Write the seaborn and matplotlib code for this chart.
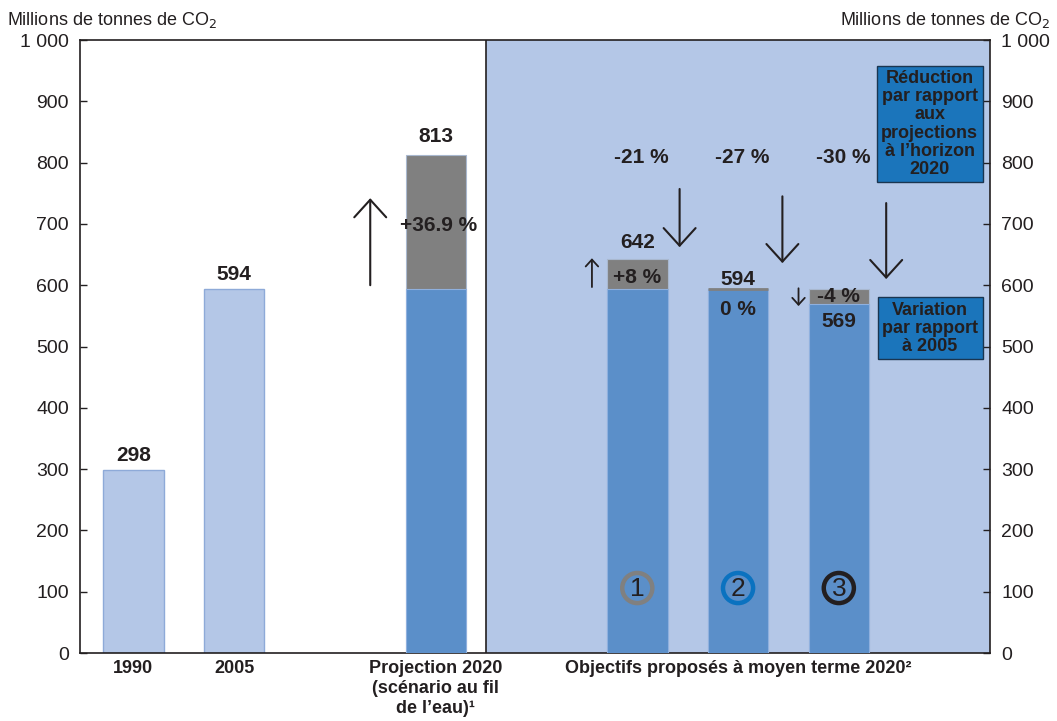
import numpy as np
import pandas as pd
import matplotlib
matplotlib.use("Agg")
import matplotlib.pyplot as plt
import seaborn as sns

# --- data -----------------------------------------------------------------
hist_labels = ["1990", "2005"]
hist_values = [298, 594]
ref_2005 = 594

proj_value = 813
proj_change = "+36.9 %"

target_values = [642, 594, 569]
target_vs_2005 = ["+8 %", "0 %", "-4 %"]
target_vs_proj = ["-21 %", "-27 %", "-30 %"]
circle_labels = ["1", "2", "3"]

group_labels = ["1990", "2005", "Projection 2020\n(scénario au fil\nde l’eau)¹",
                "Objectifs proposés à moyen terme 2020²"]

# slot positions along the x axis
hist_pos = [0, 1]
proj_pos = 3
target_pos = [5, 6, 7]
group_pos = [0, 1, 3, 6]

LIGHT = "#b4c7e7"
MID = "#5b8fc9"
GREY = "#808080"
BOX = "#1b75bb"
INK = "#231f20"

sns.set_theme(style="white")
plt.rcParams["font.family"] = ["Liberation Sans", "DejaVu Sans"]

fig = plt.figure(figsize=(10.57, 7.21), dpi=100)
ax = fig.add_axes([0.0757, 0.0943, 0.8609, 0.8502])

# shaded panel for the proposed targets
ax.axvspan(3.5, 8.6, color=LIGHT, zorder=0, lw=0)
ax.axvline(3.5, color=INK, lw=1.2, zorder=1)

# historical bars
hist_df = pd.DataFrame({"pos": hist_pos, "val": hist_values})
sns.barplot(data=hist_df, x="pos", y="val", native_scale=True, width=0.6,
            color=LIGHT, edgecolor="#8eaad8", linewidth=1, saturation=1,
            ax=ax, zorder=2)

# projection + targets: grey upper part, blue lower part
all_pos = [proj_pos] + target_pos
all_vals = [proj_value] + target_values
upper = [max(v, ref_2005) for v in all_vals]
lower = [min(v, ref_2005) for v in all_vals]
up_df = pd.DataFrame({"pos": all_pos, "val": upper})
lo_df = pd.DataFrame({"pos": all_pos, "val": lower})
sns.barplot(data=up_df, x="pos", y="val", native_scale=True, width=0.6,
            color=GREY, edgecolor="#a9b8cf", linewidth=0.8, saturation=1,
            ax=ax, zorder=2)
sns.barplot(data=lo_df, x="pos", y="val", native_scale=True, width=0.6,
            color=MID, edgecolor="#8fb0de", linewidth=0.8, saturation=1,
            ax=ax, zorder=3)
# thin grey cap where the target equals the 2005 level
for p, v in zip(target_pos, target_values):
    if v == ref_2005:
        ax.hlines(v, p - 0.3, p + 0.3, color=GREY, lw=2, zorder=4)

ax.set_xlim(-0.53, 8.5)
ax.set_ylim(0, 1000)

# axes styling
for s in ["left", "right", "top", "bottom"]:
    ax.spines[s].set_visible(True)
    ax.spines[s].set_color(INK)
    ax.spines[s].set_linewidth(1.2)
yt = np.arange(0, 1001, 100)
ylabels = ["1 000" if t == 1000 else str(t) for t in yt]
ax.set_yticks(yt)
ax.set_yticklabels(ylabels)
ax.tick_params(axis="y", direction="in", length=5, width=1, color=INK,
               labelsize=14, labelcolor=INK, left=True, right=True,
               labelleft=True, labelright=True, pad=8)
ax.set_xticks(group_pos)
ax.set_xticklabels(group_labels, fontweight="bold", fontsize=13,
                   color=INK, linespacing=1.25)
ax.tick_params(axis="x", length=0, pad=5)
ax.set_xlabel("")
ax.set_ylabel("")

fig.text(0.007, 0.972, "Millions de tonnes de CO$_2$", fontsize=13,
         color=INK, ha="left", va="center")
fig.text(0.993, 0.972, "Millions de tonnes de CO$_2$", fontsize=13,
         color=INK, ha="right", va="center")

bold = dict(fontweight="bold", color=INK, ha="center", va="center")
FS = 15

# value labels
for p, v in zip(hist_pos, hist_values):
    ax.text(p, v + 24, str(v), fontsize=FS, **bold)
ax.text(proj_pos, proj_value + 29, str(proj_value), fontsize=FS, **bold)
ax.text(proj_pos + 0.03, 698, proj_change, fontsize=FS, **bold)

ax.text(target_pos[0], target_values[0] + 28, str(target_values[0]), fontsize=FS, **bold)
ax.text(target_pos[0], 613, target_vs_2005[0], fontsize=FS, **bold)
ax.text(target_pos[1], target_values[1] + 16, str(target_values[1]), fontsize=FS, **bold)
ax.text(target_pos[1], 560, target_vs_2005[1], fontsize=FS, **bold)
ax.text(target_pos[2], 581, target_vs_2005[2], fontsize=FS, **bold)
ax.text(target_pos[2], target_values[2] - 29, str(target_values[2]), fontsize=FS, **bold)

for p, t in zip(target_pos, target_vs_proj):
    ax.text(p + 0.04, 809, t, fontsize=FS, **bold)


def arrow(x, tail, tip, ms=23, lw=1.5):
    ax.annotate("", xy=(x, tip), xytext=(x, tail),
                arrowprops=dict(arrowstyle="->,head_length=0.55,head_width=0.5",
                                lw=lw, color=INK, mutation_scale=ms,
                                shrinkA=0, shrinkB=0), zorder=5)


arrow(2.35, 600, 742)
arrow(4.55, 597, 644, ms=9, lw=1.3)
arrow(5.42, 757, 662)
arrow(6.44, 745, 636)
arrow(7.47, 734, 610)
arrow(6.60, 595, 566, ms=9, lw=1.3)

# circled scenario numbers
ring_colors = ["#808080", "#0a72c0", INK]
for p, lab, c in zip(target_pos, circle_labels, ring_colors):
    ax.scatter([p], [106], s=470, facecolors="none", edgecolors=c,
               linewidths=3.2, zorder=6)
    ax.text(p, 104, lab, fontsize=19, color=INK, ha="center", va="center",
            zorder=7)

# explanatory boxes
box_style = dict(boxstyle="square,pad=0.25", facecolor=BOX, edgecolor="#1a3550",
                 linewidth=1)
ax.text(7.9, 863, "Réduction\npar rapport\naux\nprojections\nà l’horizon\n2020",
        fontsize=13, fontweight="bold", color=INK, ha="center", va="center",
        linespacing=1.08, bbox=box_style, zorder=6)
ax.text(7.905, 530, "Variation\npar rapport\nà 2005",
        fontsize=13, fontweight="bold", color=INK, ha="center", va="center",
        linespacing=1.08, bbox=box_style, zorder=6)

fig.savefig("out.png", dpi=100)
